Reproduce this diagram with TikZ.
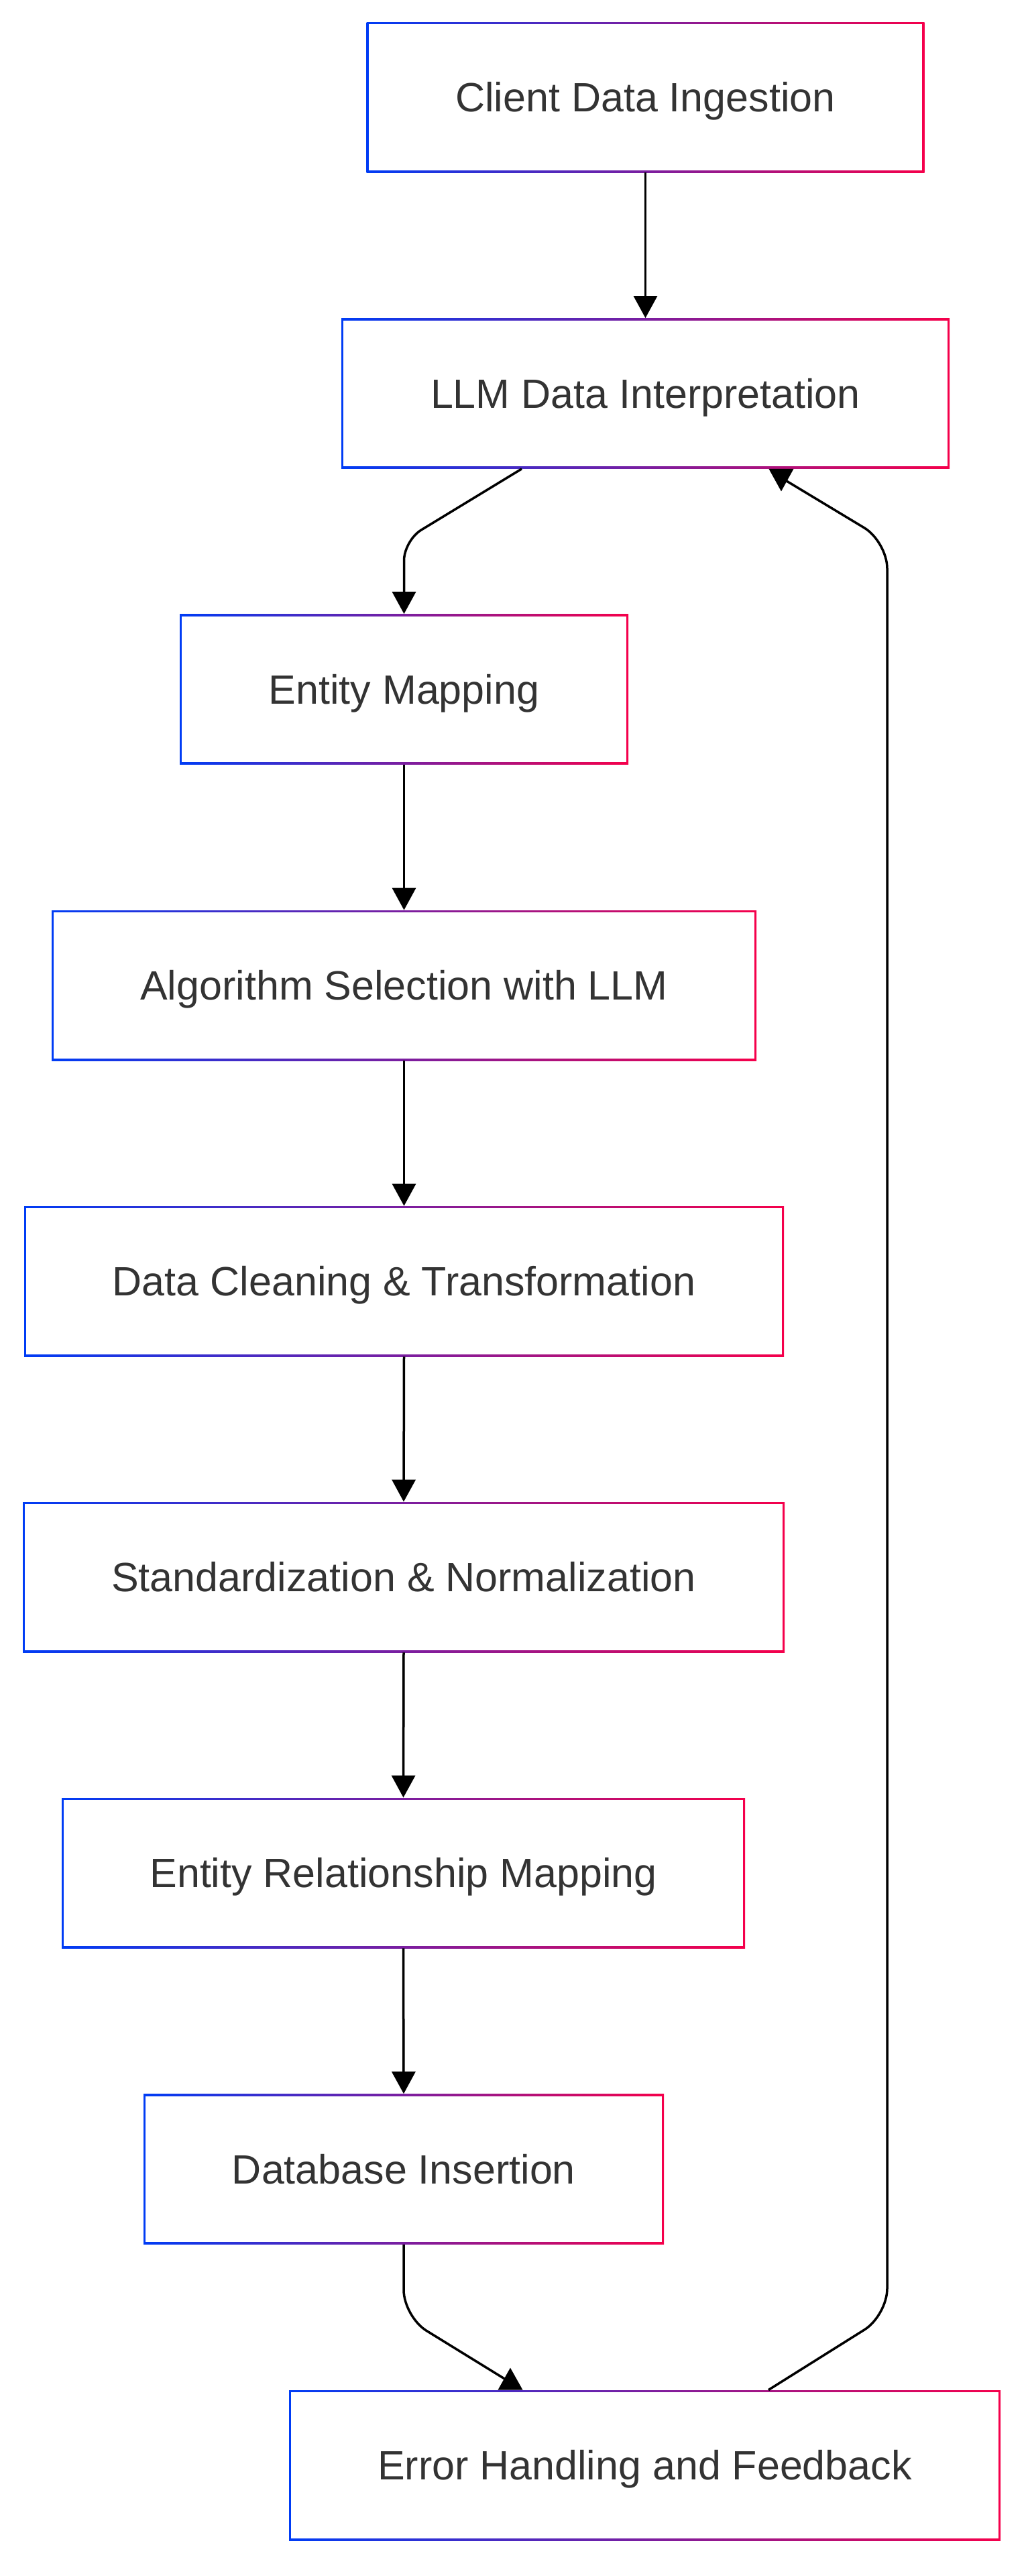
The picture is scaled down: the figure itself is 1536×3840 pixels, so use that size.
\documentclass[tikz,border=0pt]{standalone}
\usepackage{fontspec}
\setmainfont{Liberation Sans}
\usetikzlibrary{arrows.meta,calc,backgrounds}
\definecolor{cblue}{HTML}{003CF5}
\definecolor{cred}{HTML}{F5004B}
\definecolor{ctext}{HTML}{333333}
\tikzset{
  box/.style={rectangle, inner sep=0pt, minimum height=112pt,
    text height=21.8pt, text depth=0pt,
    left color=cblue, right color=cred, text=ctext,
    font=\fontsize{30.5pt}{36pt}\selectfont,
    path picture={\fill[white] ([shift={(1.7pt,1.7pt)}]path picture bounding box.south west) rectangle ([shift={(-1.7pt,-1.7pt)}]path picture bounding box.north east);}},
  conn/.style={line width=1.75pt, black},
  arr/.style={conn, -{Triangle[length=16.5pt,width=17.5pt]}},
  headtri/.style={fill=black},
  shade box/.style={fill=black, opacity=0.032},
}
\begin{document}
\begin{tikzpicture}[x=0.5pt,y=-0.5pt]
\useasboundingbox[fill=white] (0,0) rectangle (1536,3840);

\node[box, minimum width=416pt]   (n1) at (962.5,145)    {Client Data Ingestion};
\node[box, minimum width=453.5pt] (n2) at (962.5,586.5)  {LLM Data Interpretation};
\node[box, minimum width=334.5pt] (n3) at (602.5,1027.5) {Entity Mapping};
\node[box, minimum width=525.5pt] (n4) at (602.5,1469)   {Algorithm Selection with LLM};
\node[box, minimum width=566.5pt] (n5) at (602.5,1910)   {Data Cleaning \& Transformation};
\node[box, minimum width=568pt]   (n6) at (602,2351)     {Standardization \& Normalization};
\node[box, minimum width=509.5pt] (n7) at (601.5,2792)   {Entity Relationship Mapping};
\node[box, minimum width=388pt]   (n8) at (602,3233.5)   {Database Insertion};
\node[box, minimum width=530.5pt] (n9) at (961.5,3675)   {Error Handling and Feedback};

\begin{scope}[on background layer]
\foreach \n in {n1,n2,n3,n4,n5,n6,n7,n8,n9} {
  \foreach \k in {1,...,6} {
    \fill[shade box] ($(\n.north west)+(-\k,6)$) rectangle ($(\n.south east)+(\k,4+2.5*\k)$);
  }
}
\end{scope}

% straight connectors
\draw[arr] (n1.south) -- (n2.north);
\draw[arr] (n3.south) -- (n4.north);
\draw[arr] (n4.south) -- (n5.north);
\draw[arr] (n5.south) -- (n6.north);
\draw[arr] (n6.south) -- (n7.north);
\draw[arr] (n7.south) -- (n8.north);

% LLM Data Interpretation -> Entity Mapping
\draw[arr, rounded corners=15pt] ($(n2.south)+(-184.5,0)$) -- ($(n3.north)+(0,-109.5)$) -- (n3.north);

% Database Insertion -> Error Handling
\draw[conn, rounded corners=20pt] (n8.south) -- ($(n8.south)+(0,107.5)$) -- ($(n9.north)+(-206.5,-15)$);
\fill[headtri] ($(n9.north)+(-219,0)$) -- ($(n9.north)+(-182,0)$) -- ($(n9.north)+(-200.5,-33)$) -- cycle;

% Error Handling -> LLM Data Interpretation (feedback)
\draw[conn, rounded corners=20pt] ($(n9.north)+(184.5,0)$) -- ($(n9.north)+(361.5,-111)$) -- ($(n2.south)+(360.5,108.5)$) -- ($(n2.south)+(209.5,17.5)$);
\fill[headtri] ($(n2.south)+(184,0)$) -- ($(n2.south)+(221,0)$) -- ($(n2.south)+(202.5,33.5)$) -- cycle;
\end{tikzpicture}
\end{document}
